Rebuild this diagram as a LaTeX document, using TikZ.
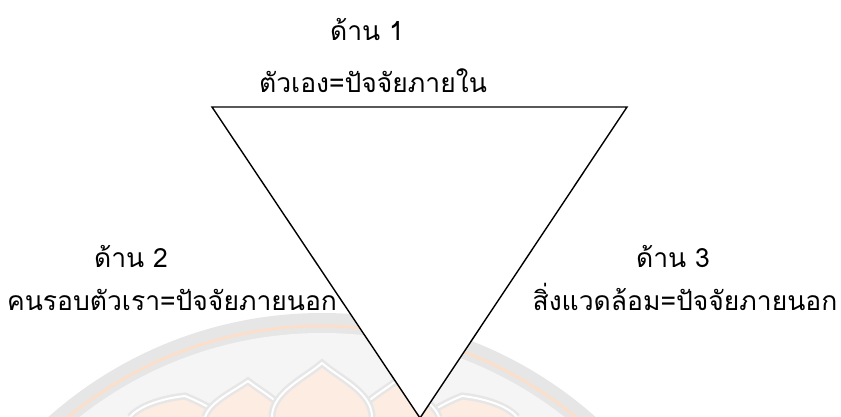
\documentclass[tikz,border=0pt]{standalone}
\usepackage{fontspec}
\newfontfamily\thaifont[Script=Thai]{Loma}
\definecolor{wmgray}{HTML}{E6E6E6}
\definecolor{wmorange}{HTML}{FCDFCB}
\definecolor{wminner}{HTML}{F5F5F5}
\definecolor{wmpetal}{HTML}{FDECE1}
\begin{document}
\begin{tikzpicture}[x=1pt,y=-1pt,
  lab/.style={font=\thaifont\fontsize{26.5}{30}\selectfont, inner sep=0pt, anchor=base},
  petal/.style={draw=wmgray, line width=7pt, fill=wmpetal},
  petalin/.style={draw=white, line width=2pt}]
\useasboundingbox (0,0) rectangle (841,417);
% faint watermark
\begin{scope}
\clip (0,0) rectangle (841,417);
\fill[wmgray] (322,725) circle (412);
\draw[wmorange, line width=3pt] (322,725) circle (399);
\fill[wminner] (322,725) circle (392);
\path[petal] (130,417) .. controls (140,405) and (165,398) .. (185,396) .. controls (200,402) and (215,410) .. (222,417);
\path[petalin] (130,417) .. controls (140,405) and (165,398) .. (185,396) .. controls (200,402) and (215,410) .. (222,417);
\path[petal] (425,417) .. controls (432,410) and (447,402) .. (462,396) .. controls (482,398) and (507,405) .. (517,417);
\path[petalin] (425,417) .. controls (432,410) and (447,402) .. (462,396) .. controls (482,398) and (507,405) .. (517,417);
\path[petal] (205,417) .. controls (210,402) and (232,392) .. (248,381) .. controls (262,392) and (282,402) .. (288,417);
\path[petalin] (205,417) .. controls (210,402) and (232,392) .. (248,381) .. controls (262,392) and (282,402) .. (288,417);
\path[petal] (356,417) .. controls (362,402) and (382,392) .. (396,381) .. controls (412,392) and (434,402) .. (439,417);
\path[petalin] (356,417) .. controls (362,402) and (382,392) .. (396,381) .. controls (412,392) and (434,402) .. (439,417);
\path[petal] (272,417) .. controls (272,392) and (305,378) .. (322,363) .. controls (339,378) and (372,392) .. (372,417);
\path[petalin] (272,417) .. controls (272,392) and (305,378) .. (322,363) .. controls (339,378) and (372,392) .. (372,417);
\end{scope}
% triangle
\coordinate (tl) at (212,107);
\coordinate (tr) at (627,107);
\coordinate (ap) at (420,418);
\draw[line width=1.4pt, fill=white, line join=miter] (tl) -- (tr) -- (ap) -- cycle;
% labels
\node[lab] (d1) at (367,41) {ด้าน 1};
\node[lab] (s1) at (373,93) {ตัวเอง=ปัจจัยภายใน};
\node[lab] (d2) at (131,267) {ด้าน 2};
\node[lab] (s2) at (172,310) {คนรอบตัวเรา=ปัจจัยภายนอก};
\node[lab] (d3) at (673,267) {ด้าน 3};
\node[lab] (s3) at (685,310) {สิ่งแวดล้อม=ปัจจัยภายนอก};
\end{tikzpicture}
\end{document}
